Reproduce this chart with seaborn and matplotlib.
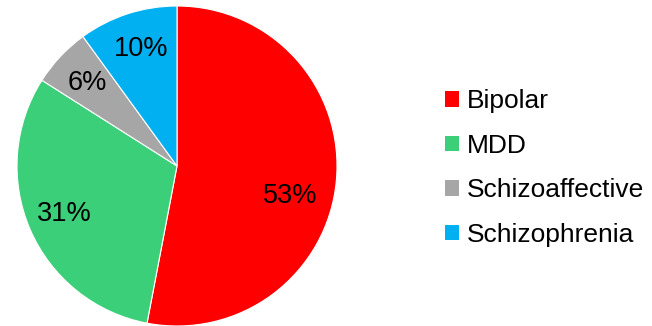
import matplotlib
matplotlib.use("Agg")
import matplotlib.pyplot as plt
import seaborn as sns
from matplotlib.patches import Patch

categories = ["Bipolar", "MDD", "Schizoaffective", "Schizophrenia"]
values = [53, 31, 6, 10]
labels = ["53%", "31%", "6%", "10%"]
colors = ["#FF0000", "#3CCF7A", "#A6A6A6", "#00B0F0"]

sns.set_theme(style="white")
plt.rcParams['font.family'] = ['Liberation Sans', 'DejaVu Sans']
plt.rcParams['text.color'] = 'black'

W, H = 652, 326
fig = plt.figure(figsize=(W / 100, H / 100), dpi=100)
cx, cy, r = 177, 166, 160
ax = fig.add_axes([(cx - r) / W, (H - cy - r) / H, 2 * r / W, 2 * r / H])

wedges, texts = ax.pie(values, colors=colors, startangle=90, counterclock=False,
                       wedgeprops=dict(edgecolor="white", linewidth=0.8))
ax.set_xlim(-1, 1)
ax.set_ylim(-1, 1)
ax.set_aspect("equal")
ax.axis("off")

label_pos = [(0.706, -0.19), (-0.706, -0.30), (-0.56, 0.52), (-0.225, 0.73)]
for (x, y), t in zip(label_pos, labels):
    ax.text(x, y, t, ha="center", va="center", fontsize=19.5, color="black")

handles = [Patch(facecolor=c, edgecolor="none") for c in colors]
leg = fig.legend(handles, categories, loc="center left", bbox_to_anchor=(445 / W, 1 - 168 / H),
                 frameon=False, fontsize=19, handlelength=0.53, handleheight=0.53,
                 handletextpad=0.3, labelspacing=0.78, borderpad=0, borderaxespad=0)
for t in leg.get_texts():
    t.set_color("black")

fig.savefig("out.png", dpi=100)
